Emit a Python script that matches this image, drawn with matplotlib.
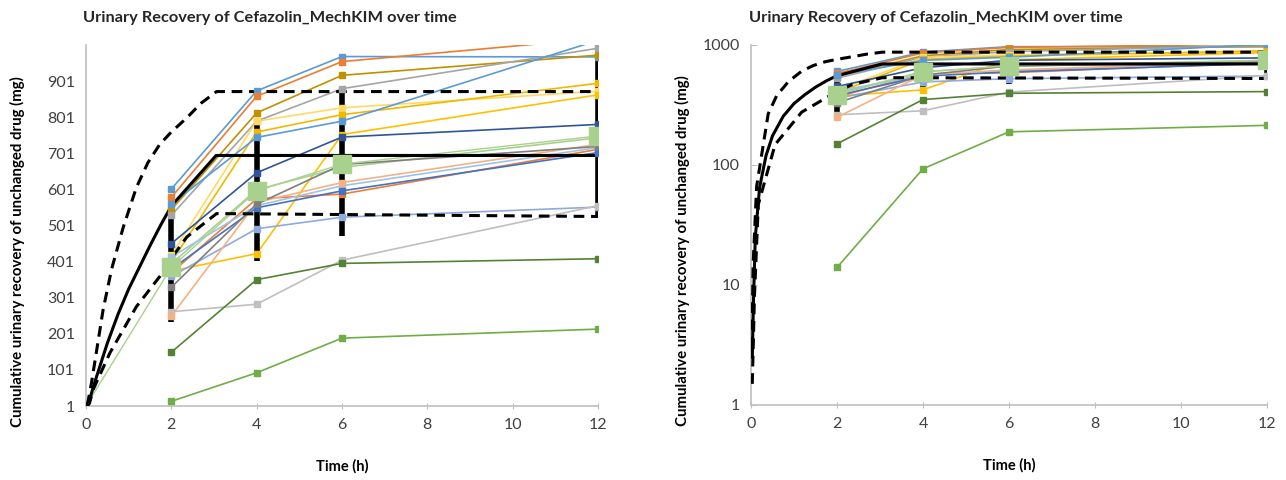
import numpy as np
import matplotlib.pyplot as plt
from matplotlib.ticker import FixedLocator, NullLocator

plt.rcParams['font.family'] = ['Lato', 'DejaVu Sans']

# observed urine samples (h)
t_obs = [2, 4, 6, 12]

# individual subjects, cumulative amount (mg)
subjects = [
    ([602, 874, 969, 968], '#5B9BD5'),
    ([579, 859, 955, 1019], '#ED7D31'),
    ([545, 813, 917, 973], '#BF9000'),
    ([529, 790, 880, 992], '#A5A5A5'),
    ([420, 790, 827, 873], '#FFD966'),
    ([375, 423, 753, 863], '#FFC000'),
    ([400, 760, 808, 895], '#F2B800'),
    ([560, 745, 790, 1014], '#5B9BD5'),
    ([451, 647, 746, 781], '#2F5597'),
    ([395, 600, 662, 744], '#A9D18E'),
    ([370, 575, 588, 712], '#ED7D31'),
    ([414, 556, 611, 717], '#9DC3E6'),
    ([380, 550, 597, 703], '#4472C4'),
    ([360, 492, 524, 552], '#8FAADC'),
    ([262, 283, 405, 556], '#BFBFBF'),
    ([150, 351, 396, 409], '#548235'),
    ([14, 93, 189, 214], '#70AD47'),
    ([250, 565, 620, 726], '#F4B183'),
    ([330, 560, 670, 720], '#7F7F7F'),
]

# observed mean +/- SD
t_mean = [0, 2, 4, 6, 12]
obs_mean = [1, 385, 597, 671, 749]
obs_sd = [0, 150, 195, 200, 220]

# simulated mean and 5th / 95th percentiles
t_sim = [0.03, 0.06, 0.1, 0.2, 0.35, 0.5, 0.75, 1.0, 1.25, 1.5, 1.75, 2.0, 3.05, 12]
sim_mean = [2.5, 8, 25, 65, 120, 175, 255, 325, 385, 445, 502, 555, 695, 695]
t_hi = [0.02, 0.05, 0.13, 0.4, 0.6, 0.87, 1.18, 1.45, 1.73, 2.0, 2.36, 2.7, 3.06, 12]
sim_hi = [3, 15, 66, 267, 380, 495, 606, 675, 726, 760, 799, 840, 872, 872]
t_lo = [0.03, 0.08, 0.17, 0.56, 1.18, 1.73, 2.0, 2.36, 3.06, 12]
sim_lo = [1.5, 8, 47, 148, 276, 360, 410, 469, 534, 526]

title = 'Urinary Recovery of Cefazolin_MechKIM over time'
ylab = 'Cumulative urinary recovery of unchanged drug (mg)'
tick_col = '#404040'
axis_col = '#BFBFBF'
dash = (0, (3.5, 2.2))

fig = plt.figure(figsize=(12.86, 4.8), dpi=100)
ax1 = fig.add_axes([86 / 1286, 1 - 406 / 480, 512 / 1286, 361 / 480])
ax2 = fig.add_axes([751 / 1286, 1 - 405 / 480, 516 / 1286, 360 / 480])


def draw(ax, from_zero):
    for vals, col in subjects:
        ax.plot(t_obs, vals, color=col, lw=1.2, zorder=2)
    k = 0 if from_zero else 1
    ax.plot(t_mean[k:], obs_mean[k:], color='#A9D18E', lw=1.0, zorder=2)
    ax.errorbar(t_mean[1:], obs_mean[1:], yerr=obs_sd[1:], fmt='none',
                ecolor='black', elinewidth=4, capsize=0, zorder=2.5)
    for vals, col in subjects:
        ax.plot(t_obs, vals, ls='none', marker='s', ms=4.5, color=col, zorder=3)
    ax.plot(t_sim, sim_mean, color='black', lw=2.2, zorder=2.6)
    ax.plot(t_hi, sim_hi, color='black', lw=2.2, ls=dash, zorder=2.6)
    ax.plot(t_lo, sim_lo, color='black', lw=2.2, ls=dash, zorder=2.6)
    ax.plot(t_mean[1:], obs_mean[1:], ls='none', marker='s', ms=13,
            color='#A9D18E', zorder=4)

    ax.set_xlim(0, 12)
    ax.set_xticks(range(0, 13, 2))
    for s in ['top', 'right']:
        ax.spines[s].set_visible(False)
    for s in ['left', 'bottom']:
        ax.spines[s].set_color(axis_col)
        ax.spines[s].set_linewidth(1.2)
    ax.tick_params(axis='x', direction='inout', length=5, color=axis_col,
                   labelsize=11.5, labelcolor=tick_col, pad=6)
    ax.set_xlabel('Time (h)', fontsize=10.5, fontweight='bold', labelpad=20)
    ax.set_ylabel(ylab, fontsize=10.8, fontweight='bold')


draw(ax1, True)
ax1.set_ylim(1, 1001)
ax1.set_yticks(range(1, 1000, 100))
ax1.tick_params(axis='y', length=0, labelsize=11.5, labelcolor=tick_col, pad=8)
ax1.yaxis.set_label_coords(-0.119, 0.427)

draw(ax2, False)
ax2.set_yscale('log')
ax2.set_ylim(1, 1000)
ax2.yaxis.set_major_locator(FixedLocator([1, 10, 100, 1000]))
ax2.yaxis.set_minor_locator(NullLocator())
ax2.set_yticklabels(['1', '10', '100', '1000'])
ax2.tick_params(axis='y', direction='in', length=4, color=axis_col,
                labelsize=11.5, labelcolor=tick_col, pad=8)
ax2.yaxis.set_label_coords(-0.118, 0.43)

fig.text(270 / 1286, 1 - 18 / 480, title, ha='center', va='center',
         fontsize=11.8, fontweight='bold', color='#262626')
fig.text(936 / 1286, 1 - 18 / 480, title, ha='center', va='center',
         fontsize=11.8, fontweight='bold', color='#262626')

fig.savefig('out.png', dpi=100)
